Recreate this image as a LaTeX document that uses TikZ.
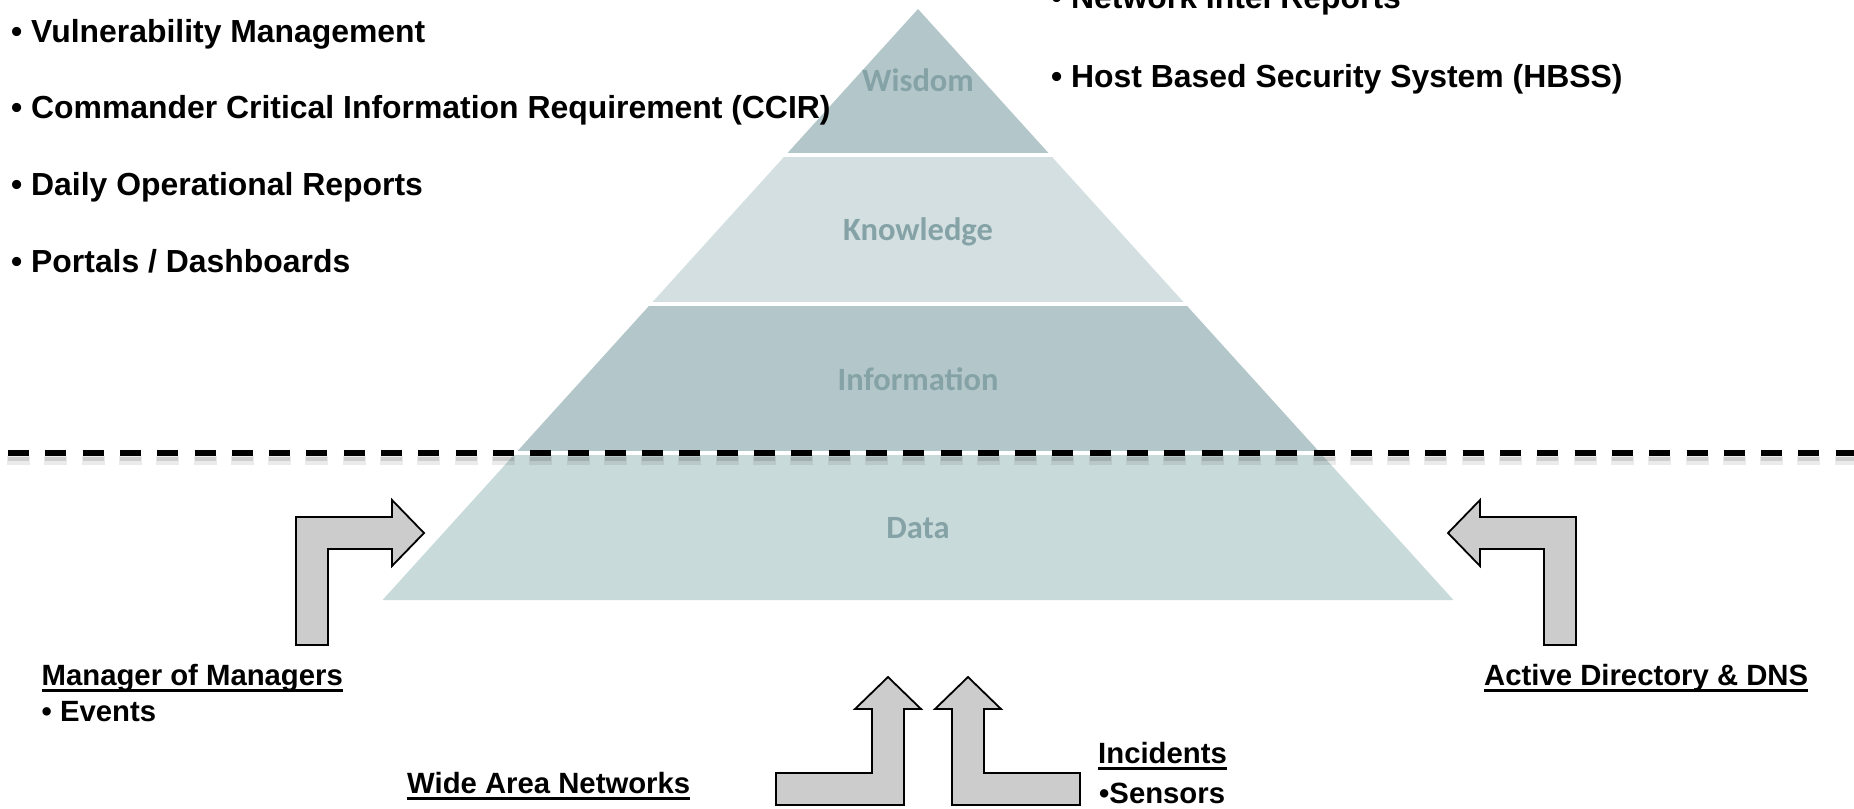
\documentclass[tikz,border=0pt]{standalone}
\usepackage{fontspec}
\setmainfont{Liberation Sans}
\newfontfamily\tierfont{Carlito}
\definecolor{tierdark}{HTML}{B3C6C9}
\definecolor{tierlight}{HTML}{D3DFE0}
\definecolor{tierdata}{HTML}{C9DADB}
\definecolor{tiertext}{HTML}{85A3A6}
\definecolor{arrowgray}{HTML}{CCCCCC}

\begin{document}
\begin{tikzpicture}[x=1pt, y=-1pt,
        tier/.style={anchor=base, inner sep=0, text=tiertext,
            font=\tierfont\bfseries\fontsize{32.5}{34}\selectfont},
        item/.style={anchor=base west, inner sep=0,
            font=\bfseries\fontsize{31.9}{34}\selectfont},
        source/.style={anchor=base west, inner sep=0,
            font=\bfseries\fontsize{29.3}{32}\selectfont},
        uline/.style={line width=3},
        blockarrow/.style={fill=arrowgray, draw=black, line width=1.8, line join=miter}]
        \useasboundingbox (0, 0) rectangle (1854, 808);
        \foreach \top/\bot/\col in {9/155/tierdark, 155/304/tierlight, 304/453/tierdark, 453/600/tierdata} {
            \pgfmathsetmacro\wt{.906 * (\top - 9)}
            \pgfmathsetmacro\wb{.906 * (\bot - 9)}
            \fill [\col] (918 - \wt, \top) -- (918 + \wt, \top) -- (918 + \wb, \bot) -- (918 - \wb, \bot) -- cycle;
        }
        \foreach \y in {155, 304, 453}
            \draw [white, line width=4] (480, \y) -- (1360, \y);
        \draw [black, opacity=.08, line width=9, dash pattern=on 23pt off 14.3pt] (7, 460) -- (1854, 460);
        \draw [black, opacity=.12, line width=4, dash pattern=on 21pt off 16.3pt] (8, 459) -- (1854, 459);
        \draw [line width=6, dash pattern=on 21pt off 16.3pt] (8, 453) -- (1854, 453);
        \node [tier] (wisdom) at (918, 91) {Wisdom};
        \node [tier] (knowledge) at (918, 240) {Knowledge};
        \node [tier] (information) at (918, 390) {Information};
        \node [tier] (data) at (918, 538) {Data};
        \node [item] (vuln) at (11, 43) {• Vulnerability Management};
        \node [item] (ccir) at (11, 118) {• Commander Critical Information Requirement (CCIR)};
        \node [item] (daily) at (11, 195) {• Daily Operational Reports};
        \node [item] (portals) at (11, 272) {• Portals / Dashboards};
        \node [item] (intel) at (1051, 9) {• Network Intel Reports};
        \node [item] (hbss) at (1051, 87) {• Host Based Security System (HBSS)};
        \draw [blockarrow] (296, 645) -- (296, 517) -- (392, 517) -- (392, 500) -- (424, 533) --
            (392, 566) -- (392, 549) -- (328, 549) -- (328, 645) -- cycle;
        \draw [blockarrow] (1576, 645) -- (1576, 517) -- (1480, 517) -- (1480, 500) -- (1448, 533) --
            (1480, 566) -- (1480, 549) -- (1544, 549) -- (1544, 645) -- cycle;
        \draw [blockarrow] (776, 773) -- (872, 773) -- (872, 709) -- (855, 709) -- (888, 677) --
            (921, 709) -- (904, 709) -- (904, 805) -- (776, 805) -- cycle;
        \draw [blockarrow] (1080, 773) -- (984, 773) -- (984, 709) -- (1001, 709) -- (968, 677) --
            (935, 709) -- (952, 709) -- (952, 805) -- (1080, 805) -- cycle;
        \node [source] (mom) at (41.5, 685) {Manager of Managers};
        \node [source] (events) at (41.5, 721) {• Events};
        \node [source] (adns) at (1484, 685) {Active Directory \& DNS};
        \node [source] (wan) at (407, 793) {Wide Area Networks};
        \node [source] (incidents) at (1098, 763) {Incidents};
        \node [source] (sensors) at (1099, 803) {•Sensors};
        \foreach \n in {mom, adns, wan, incidents}
            \draw [uline] ([yshift=-5] \n.base west) -- ([yshift=-5] \n.base east);
    \end{tikzpicture}
\end{document}
